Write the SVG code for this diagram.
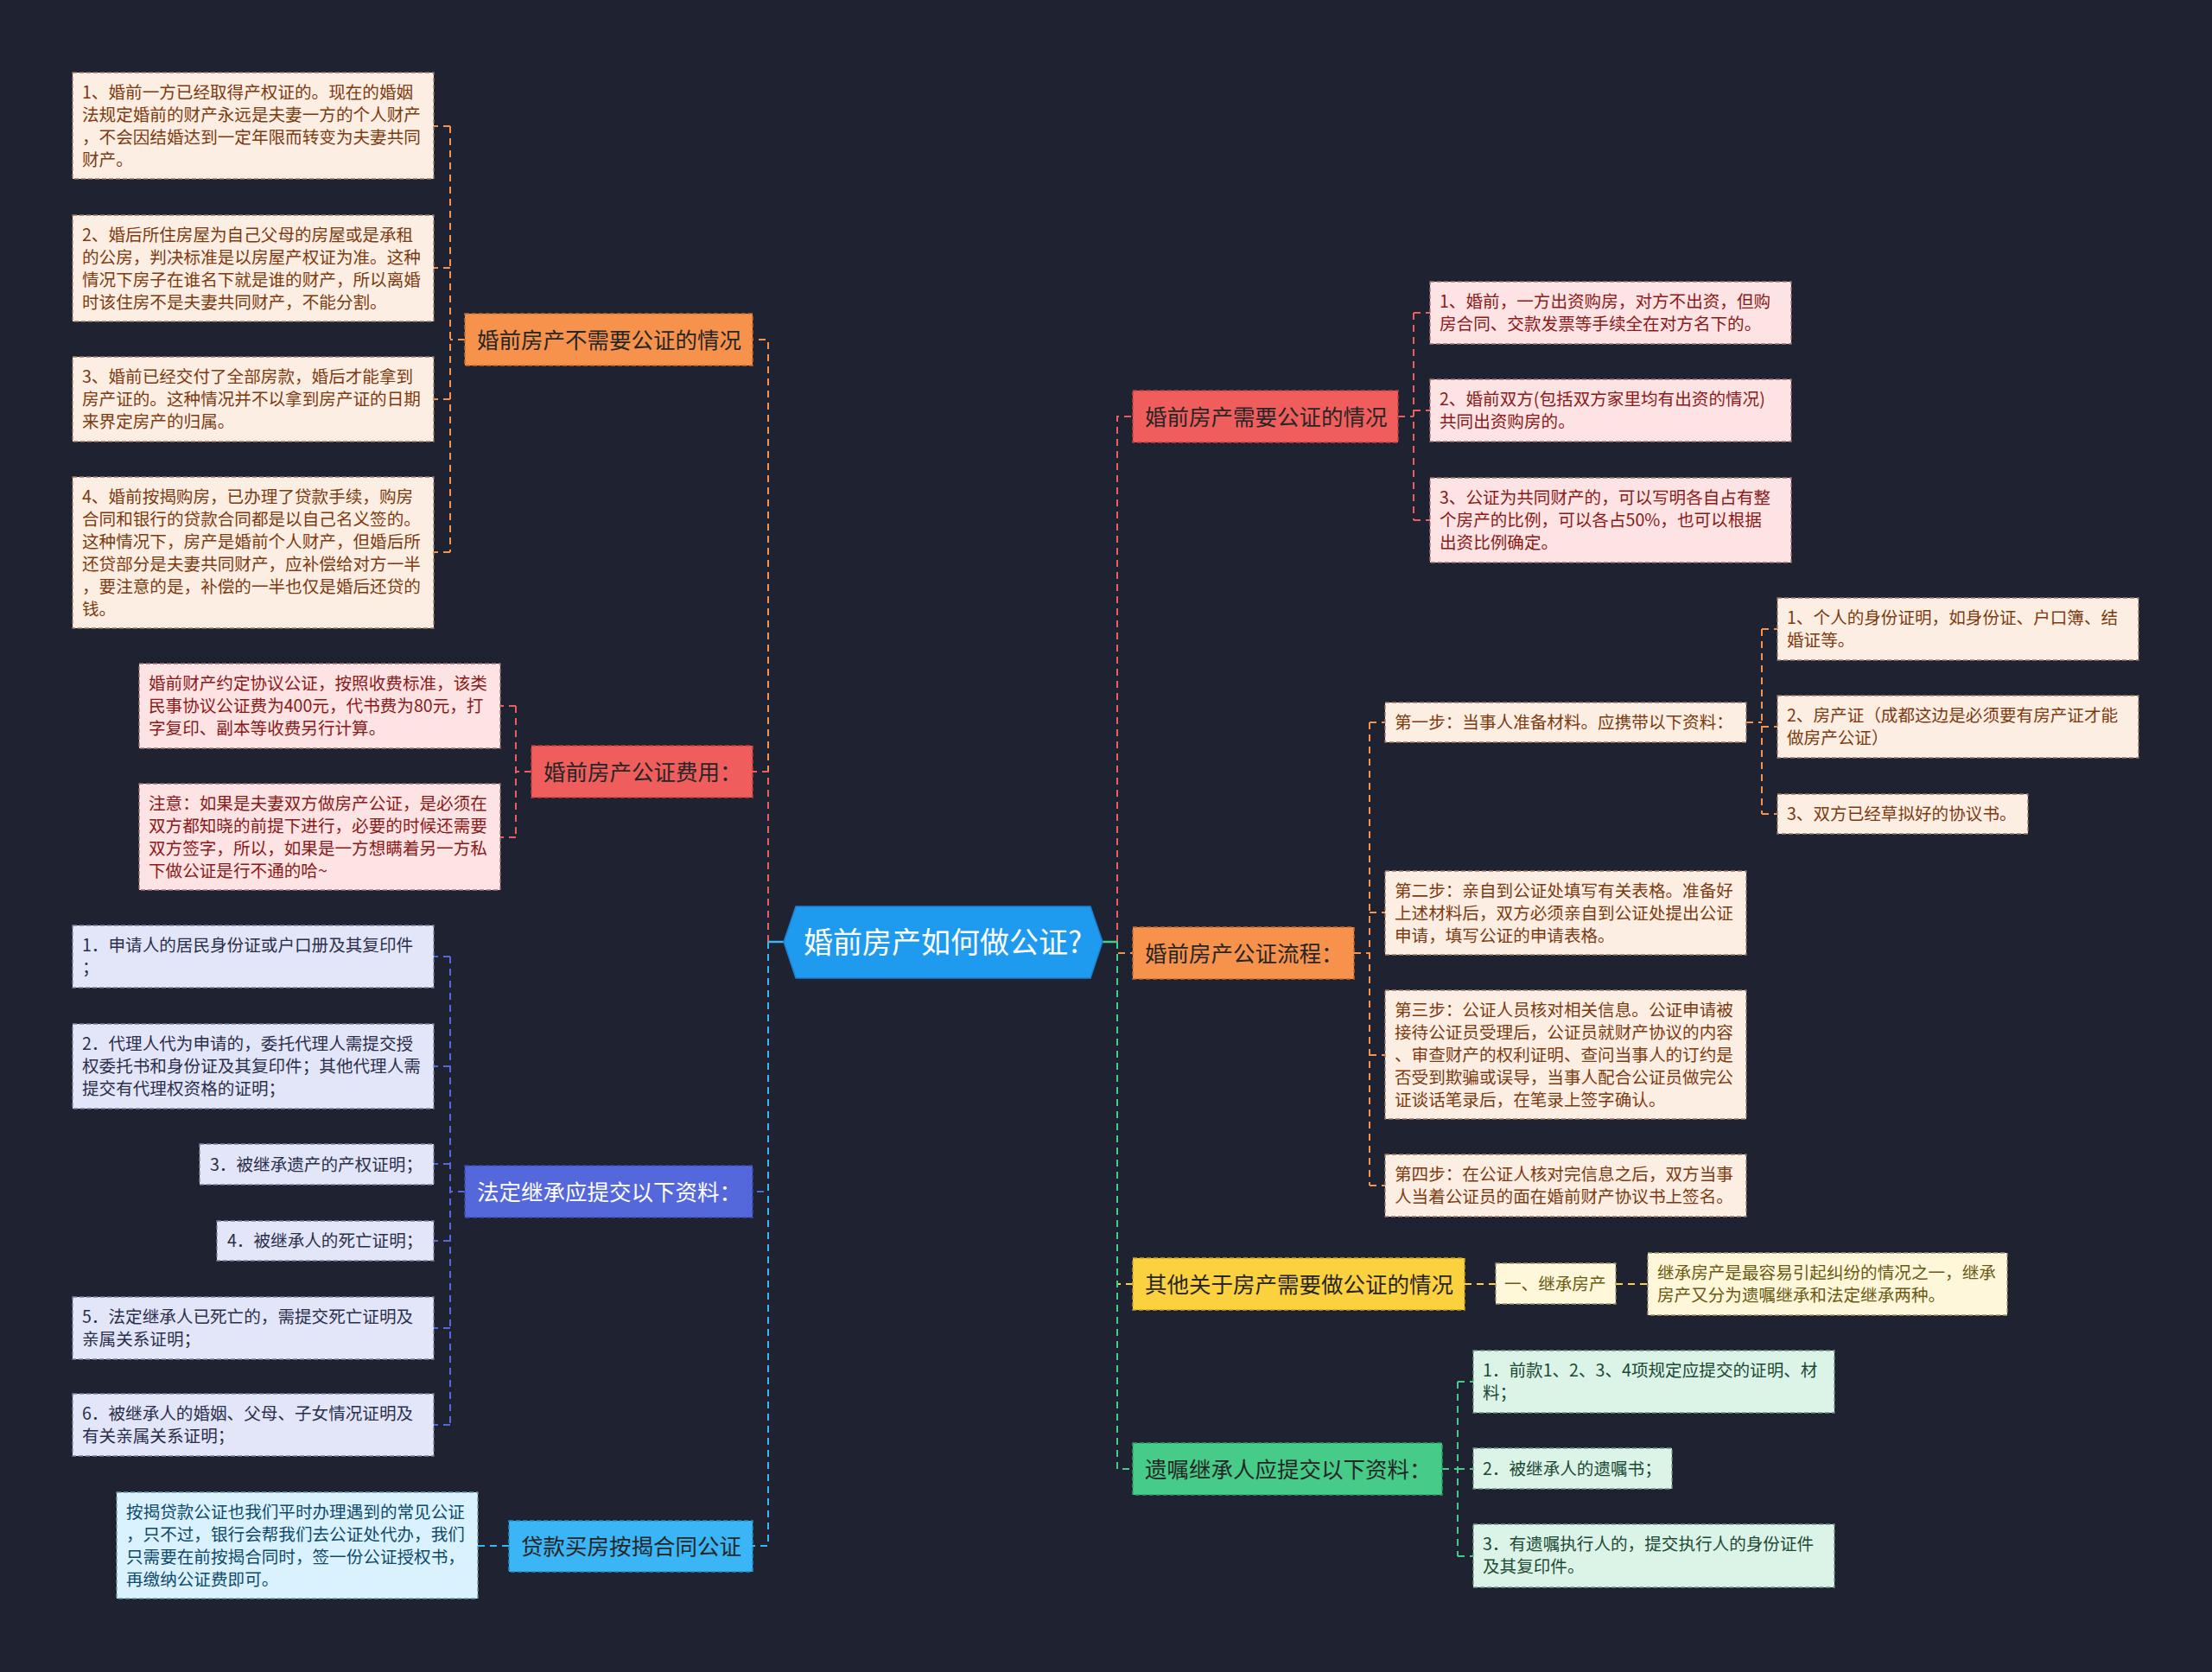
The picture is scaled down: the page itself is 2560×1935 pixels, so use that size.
<svg xmlns="http://www.w3.org/2000/svg" width="2560" height="1935" viewBox="0 0 2560 1935">
<style>
.bg{fill:#1f2230}
.e{fill:none;stroke-width:2;stroke-dasharray:8 6}
.s{fill:none;stroke-width:2.5}
.c-or{stroke:#f7924c}.c-rd{stroke:#ec5e5e}.c-bl{stroke:#5468dc}.c-lb{stroke:#3ab5f5}.c-ye{stroke:#fcd13f}.c-gr{stroke:#46cc88}
text{font-family:"Noto Sans CJK SC","Noto Sans",sans-serif}
.nt{font-size:25.5px;fill:#262626}
.nw{font-size:25.5px;fill:#ffffff}
.lt{font-size:19.6px}
.nb{stroke-width:1.5;stroke-dasharray:5 3}
.lb{stroke-width:1.3;stroke-dasharray:5 3}
.p-or{fill:#fdeee3;stroke:#9a7a66}.t-or{fill:#7c3b10}
.p-rd{fill:#fde3e3;stroke:#a07474}.t-rd{fill:#8a1a1a}
.p-bl{fill:#e3e6f8;stroke:#7d819c}.t-bl{fill:#2b2f4c}
.p-lb{fill:#daf2fd;stroke:#6d95a8}.t-lb{fill:#0e4a6b}
.p-ye{fill:#fef7da;stroke:#a09870}.t-ye{fill:#6b5a12}
.p-gr{fill:#dcf4e8;stroke:#6f9a84}.t-gr{fill:#1d4a35}
</style>
<rect class="bg" x="0" y="0" width="2560" height="1935"/>

<g id="connectors">
  <!-- main left -->
  <path class="e c-or" d="M889 1090 V393 H538"/>
  <path class="e c-rd" d="M889 1090 V893 H615"/>
  <path class="e c-bl" d="M889 1090 V1379 H538"/>
  <path class="e c-lb" d="M889 1090 V1789 H589"/>
  <path class="s c-lb" d="M907 1090 H889"/>
  <!-- main right -->
  <path class="e c-rd" d="M1293 1090 V482 H1311"/>
  <path class="e c-or" d="M1293 1090 V1103 H1311"/>
  <path class="e c-ye" d="M1293 1090 V1486 H1311"/>
  <path class="e c-gr" d="M1293 1090 V1700 H1311"/>
  <path class="s c-gr" d="M1276 1090 H1293"/>
  <!-- 不需要 -->
  <path class="e c-or" d="M538 393 H521 M521 146 V639 M521 146 H502 M521 310 H502 M521 462 H502 M521 639 H502"/>
  <!-- 费用 -->
  <path class="e c-rd" d="M615 893 H597 M597 817 V969 M597 817 H579 M597 969 H579"/>
  <!-- 法定 -->
  <path class="e c-bl" d="M538 1379 H521 M521 1107 V1649 M521 1107 H502 M521 1234 H502 M521 1347 H502 M521 1436 H502 M521 1537 H502 M521 1649 H502"/>
  <!-- 贷款 -->
  <path class="e c-lb" d="M589 1789 H553"/>
  <!-- 需要 -->
  <path class="e c-rd" d="M1618 482 H1636 M1636 362 V602 M1636 362 H1655 M1636 475 H1655 M1636 602 H1655"/>
  <!-- 流程 -->
  <path class="e c-or" d="M1567 1103 H1585 M1585 836 V1372 M1585 836 H1603 M1585 1056 H1603 M1585 1221 H1603 M1585 1372 H1603"/>
  <path class="e c-or" d="M2021 836 H2039 M2039 728 V942 M2039 728 H2057 M2039 841 H2057 M2039 942 H2057"/>
  <!-- 其他 -->
  <path class="e c-ye" d="M1695 1486 H1731 M1870 1486 H1907"/>
  <!-- 遗嘱 -->
  <path class="e c-gr" d="M1669 1700 H1687 M1687 1599 V1801 M1687 1599 H1705 M1687 1700 H1705 M1687 1801 H1705"/>
</g>

<g id="center">
  <polygon points="907,1090 921,1049 1262,1049 1276,1090 1262,1132 921,1132" fill="#1e9bef" stroke="#1b7fd0" stroke-width="1.5"/>
  <text x="1091" y="1103" text-anchor="middle" font-size="34" fill="#ffffff">婚前房产如何做公证?</text>
</g>

<!-- main nodes -->
<g id="n-buxuyao"><rect x="538" y="363" width="333" height="60" fill="#f7924c" stroke="#c86a2a" class="nb"/><text class="nt" x="552" y="403">婚前房产不需要公证的情况</text></g>
<g id="n-feiyong"><rect x="615" y="863" width="256" height="60" fill="#f05d5d" stroke="#c23e3e" class="nb"/><text class="nt" x="629" y="903">婚前房产公证费用：</text></g>
<g id="n-fading"><rect x="538" y="1349" width="333" height="60" fill="#5468dc" stroke="#3a4bb0" class="nb"/><text class="nw" x="552" y="1389">法定继承应提交以下资料：</text></g>
<g id="n-daikuan"><rect x="589" y="1760" width="282" height="59" fill="#3ab5f5" stroke="#2590c8" class="nb"/><text class="nt" x="603" y="1799">贷款买房按揭合同公证</text></g>
<g id="n-xuyao"><rect x="1311" y="452" width="307" height="60" fill="#f05d5d" stroke="#c23e3e" class="nb"/><text class="nt" x="1325" y="492">婚前房产需要公证的情况</text></g>
<g id="n-liucheng"><rect x="1311" y="1073" width="256" height="60" fill="#f7924c" stroke="#c86a2a" class="nb"/><text class="nt" x="1325" y="1113">婚前房产公证流程：</text></g>
<g id="n-qita"><rect x="1311" y="1456" width="384" height="60" fill="#fcd13f" stroke="#c9a21c" class="nb"/><text class="nt" x="1325" y="1496">其他关于房产需要做公证的情况</text></g>
<g id="n-yizhu"><rect x="1311" y="1670" width="358" height="60" fill="#46cc88" stroke="#2e9e64" class="nb"/><text class="nt" x="1325" y="1710">遗嘱继承人应提交以下资料：</text></g>

<!-- left orange leaves -->
<g id="l-or1"><rect class="lb p-or" x="84" y="84" width="418" height="123"/><text class="lt t-or" x="95"><tspan x="95" y="114">1、婚前一方已经取得产权证的。现在的婚姻</tspan><tspan x="95" y="140">法规定婚前的财产永远是夫妻一方的个人财产</tspan><tspan x="95" y="166">，不会因结婚达到一定年限而转变为夫妻共同</tspan><tspan x="95" y="192">财产。</tspan></text></g>
<g id="l-or2"><rect class="lb p-or" x="84" y="249" width="418" height="123"/><text class="lt t-or"><tspan x="95" y="279">2、婚后所住房屋为自己父母的房屋或是承租</tspan><tspan x="95" y="305">的公房，判决标准是以房屋产权证为准。这种</tspan><tspan x="95" y="331">情况下房子在谁名下就是谁的财产，所以离婚</tspan><tspan x="95" y="357">时该住房不是夫妻共同财产，不能分割。</tspan></text></g>
<g id="l-or3"><rect class="lb p-or" x="84" y="413" width="418" height="98"/><text class="lt t-or"><tspan x="95" y="443">3、婚前已经交付了全部房款，婚后才能拿到</tspan><tspan x="95" y="469">房产证的。这种情况并不以拿到房产证的日期</tspan><tspan x="95" y="495">来界定房产的归属。</tspan></text></g>
<g id="l-or4"><rect class="lb p-or" x="84" y="552" width="418" height="175"/><text class="lt t-or"><tspan x="95" y="582">4、婚前按揭购房，已办理了贷款手续，购房</tspan><tspan x="95" y="608">合同和银行的贷款合同都是以自己名义签的。</tspan><tspan x="95" y="634">这种情况下，房产是婚前个人财产，但婚后所</tspan><tspan x="95" y="660">还贷部分是夫妻共同财产，应补偿给对方一半</tspan><tspan x="95" y="686">，要注意的是，补偿的一半也仅是婚后还贷的</tspan><tspan x="95" y="712">钱。</tspan></text></g>

<!-- fee leaves -->
<g id="l-rd1"><rect class="lb p-rd" x="161" y="768" width="418" height="98"/><text class="lt t-rd"><tspan x="172" y="798">婚前财产约定协议公证，按照收费标准，该类</tspan><tspan x="172" y="824">民事协议公证费为400元，代书费为80元，打</tspan><tspan x="172" y="850">字复印、副本等收费另行计算。</tspan></text></g>
<g id="l-rd2"><rect class="lb p-rd" x="161" y="907" width="418" height="123"/><text class="lt t-rd"><tspan x="172" y="937">注意：如果是夫妻双方做房产公证，是必须在</tspan><tspan x="172" y="963">双方都知晓的前提下进行，必要的时候还需要</tspan><tspan x="172" y="989">双方签字，所以，如果是一方想瞒着另一方私</tspan><tspan x="172" y="1015">下做公证是行不通的哈~</tspan></text></g>

<!-- blue leaves -->
<g id="l-bl1"><rect class="lb p-bl" x="84" y="1071" width="418" height="72"/><text class="lt t-bl"><tspan x="95" y="1101">1．申请人的居民身份证或户口册及其复印件</tspan><tspan x="95" y="1127">；</tspan></text></g>
<g id="l-bl2"><rect class="lb p-bl" x="84" y="1185" width="418" height="98"/><text class="lt t-bl"><tspan x="95" y="1215">2．代理人代为申请的，委托代理人需提交授</tspan><tspan x="95" y="1241">权委托书和身份证及其复印件；其他代理人需</tspan><tspan x="95" y="1267">提交有代理权资格的证明；</tspan></text></g>
<g id="l-bl3"><rect class="lb p-bl" x="231" y="1324" width="271" height="47"/><text class="lt t-bl" x="243" y="1355">3．被继承遗产的产权证明；</text></g>
<g id="l-bl4"><rect class="lb p-bl" x="251" y="1413" width="251" height="46"/><text class="lt t-bl" x="263" y="1443">4．被继承人的死亡证明；</text></g>
<g id="l-bl5"><rect class="lb p-bl" x="84" y="1501" width="418" height="72"/><text class="lt t-bl"><tspan x="95" y="1531">5．法定继承人已死亡的，需提交死亡证明及</tspan><tspan x="95" y="1557">亲属关系证明；</tspan></text></g>
<g id="l-bl6"><rect class="lb p-bl" x="84" y="1613" width="418" height="72"/><text class="lt t-bl"><tspan x="95" y="1643">6．被继承人的婚姻、父母、子女情况证明及</tspan><tspan x="95" y="1669">有关亲属关系证明；</tspan></text></g>

<!-- light blue leaf -->
<g id="l-lb1"><rect class="lb p-lb" x="135" y="1727" width="418" height="123"/><text class="lt t-lb"><tspan x="146" y="1757">按揭贷款公证也我们平时办理遇到的常见公证</tspan><tspan x="146" y="1783">，只不过，银行会帮我们去公证处代办，我们</tspan><tspan x="146" y="1809">只需要在前按揭合同时，签一份公证授权书，</tspan><tspan x="146" y="1835">再缴纳公证费即可。</tspan></text></g>

<!-- right red leaves -->
<g id="r-rd1"><rect class="lb p-rd" x="1655" y="326" width="418" height="72"/><text class="lt t-rd"><tspan x="1666" y="356">1、婚前，一方出资购房，对方不出资，但购</tspan><tspan x="1666" y="382">房合同、交款发票等手续全在对方名下的。</tspan></text></g>
<g id="r-rd2"><rect class="lb p-rd" x="1655" y="439" width="418" height="72"/><text class="lt t-rd"><tspan x="1666" y="469">2、婚前双方(包括双方家里均有出资的情况)</tspan><tspan x="1666" y="495">共同出资购房的。</tspan></text></g>
<g id="r-rd3"><rect class="lb p-rd" x="1655" y="553" width="418" height="98"/><text class="lt t-rd"><tspan x="1666" y="583">3、公证为共同财产的，可以写明各自占有整</tspan><tspan x="1666" y="609">个房产的比例，可以各占50%，也可以根据</tspan><tspan x="1666" y="635">出资比例确定。</tspan></text></g>

<!-- flow steps -->
<g id="r-s1"><rect class="lb p-or" x="1603" y="813" width="418" height="46"/><text class="lt t-or" x="1614" y="843">第一步：当事人准备材料。应携带以下资料：</text></g>
<g id="r-s2"><rect class="lb p-or" x="1603" y="1008" width="418" height="97"/><text class="lt t-or"><tspan x="1614" y="1038">第二步：亲自到公证处填写有关表格。准备好</tspan><tspan x="1614" y="1064">上述材料后，双方必须亲自到公证处提出公证</tspan><tspan x="1614" y="1090">申请，填写公证的申请表格。</tspan></text></g>
<g id="r-s3"><rect class="lb p-or" x="1603" y="1146" width="418" height="149"/><text class="lt t-or"><tspan x="1614" y="1176">第三步：公证人员核对相关信息。公证申请被</tspan><tspan x="1614" y="1202">接待公证员受理后，公证员就财产协议的内容</tspan><tspan x="1614" y="1228">、审查财产的权利证明、查问当事人的订约是</tspan><tspan x="1614" y="1254">否受到欺骗或误导，当事人配合公证员做完公</tspan><tspan x="1614" y="1280">证谈话笔录后，在笔录上签字确认。</tspan></text></g>
<g id="r-s4"><rect class="lb p-or" x="1603" y="1336" width="418" height="72"/><text class="lt t-or"><tspan x="1614" y="1366">第四步：在公证人核对完信息之后，双方当事</tspan><tspan x="1614" y="1392">人当着公证员的面在婚前财产协议书上签名。</tspan></text></g>
<g id="r-t1"><rect class="lb p-or" x="2057" y="692" width="418" height="72"/><text class="lt t-or"><tspan x="2068" y="722">1、个人的身份证明，如身份证、户口簿、结</tspan><tspan x="2068" y="748">婚证等。</tspan></text></g>
<g id="r-t2"><rect class="lb p-or" x="2057" y="805" width="418" height="72"/><text class="lt t-or"><tspan x="2068" y="835">2、房产证（成都这边是必须要有房产证才能</tspan><tspan x="2068" y="861">做房产公证）</tspan></text></g>
<g id="r-t3"><rect class="lb p-or" x="2057" y="919" width="290" height="46"/><text class="lt t-or" x="2068" y="949">3、双方已经草拟好的协议书。</text></g>

<!-- yellow -->
<g id="r-y1"><rect class="lb p-ye" x="1731" y="1462" width="139" height="47"/><text class="lt t-ye" x="1741" y="1493">一、继承房产</text></g>
<g id="r-y2"><rect class="lb p-ye" x="1907" y="1450" width="416" height="72"/><text class="lt t-ye"><tspan x="1918" y="1480">继承房产是最容易引起纠纷的情况之一，继承</tspan><tspan x="1918" y="1506">房产又分为遗嘱继承和法定继承两种。</tspan></text></g>

<!-- green -->
<g id="r-g1"><rect class="lb p-gr" x="1705" y="1563" width="418" height="72"/><text class="lt t-gr"><tspan x="1716" y="1593">1．前款1、2、3、4项规定应提交的证明、材</tspan><tspan x="1716" y="1619">料；</tspan></text></g>
<g id="r-g2"><rect class="lb p-gr" x="1705" y="1676" width="230" height="47"/><text class="lt t-gr" x="1716" y="1707">2．被继承人的遗嘱书；</text></g>
<g id="r-g3"><rect class="lb p-gr" x="1705" y="1764" width="418" height="73"/><text class="lt t-gr"><tspan x="1716" y="1794">3．有遗嘱执行人的，提交执行人的身份证件</tspan><tspan x="1716" y="1820">及其复印件。</tspan></text></g>
</svg>
